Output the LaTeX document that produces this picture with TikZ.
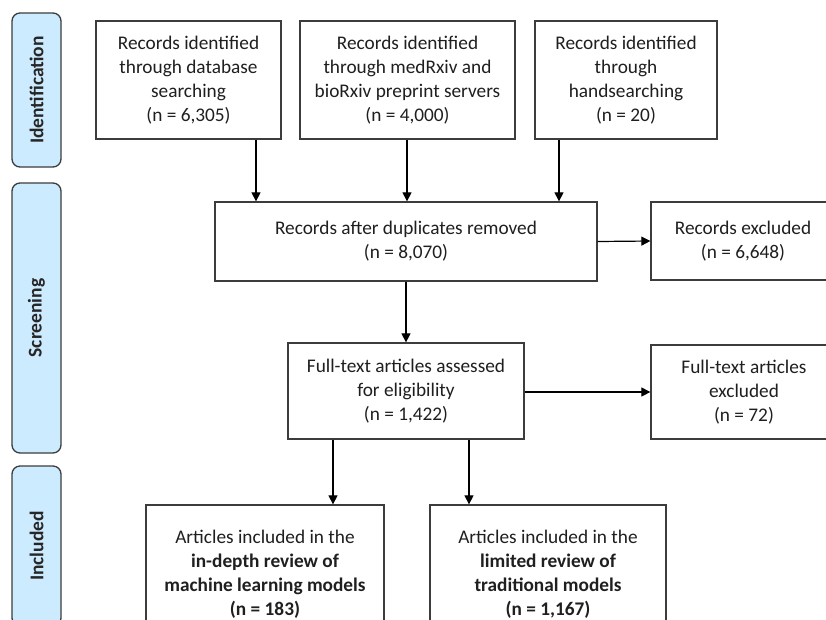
\documentclass[tikz,border=0pt]{standalone}
\usepackage{fontspec}
\setmainfont{Carlito}
\usetikzlibrary{arrows.meta}
\definecolor{barfill}{RGB}{205,235,255}
\definecolor{edgecol}{RGB}{60,60,60}
\begin{document}
\begin{tikzpicture}[x=1pt,y=-1pt,
  box/.style={draw=edgecol,line width=1.3pt,fill=white,inner sep=0pt,align=center,
    font=\fontsize{19.3}{24}\selectfont,text=black!88,
    execute at begin node={\rule{0pt}{20pt}}},
  bar/.style={draw=edgecol,line width=1.3pt,fill=barfill,rounded corners=8pt,rotate=90,
    minimum height=49pt,inner sep=0pt,font=\fontsize{19.5}{24}\selectfont\bfseries,text=black!85},
  arr/.style={draw=black,line width=1.2pt,-{Triangle[length=9pt,width=9pt]}}]
\useasboundingbox (0,0) rectangle (826,619);
\clip (0,0) rectangle (826,619);
\fill[white] (0,0) rectangle (826,619);
% side bars
\node[bar,minimum width=154pt] (idb) at (36.5,90) {Identification};
\node[bar,minimum width=270pt] (scb) at (36.5,318) {Screening};
\node[bar,minimum width=160pt] (inb) at (36.5,546) {Included};
% top boxes
\node[box,minimum width=185pt,minimum height=118pt] (b1) at (188.5,80)
  {Records identified\\through database\\searching\\(n = 6,305)};
\node[box,minimum width=215pt,minimum height=118pt] (b2) at (407.5,80)
  {Records identified\\through medRxiv and\\bioRxiv preprint servers\\(n = 4,000)};
\node[box,minimum width=182pt,minimum height=118pt] (b3) at (626,80)
  {Records identified\\through\\handsearching\\(n = 20)};
% duplicates
\node[box,minimum width=382pt,minimum height=79pt] (dup) at (406,241.5)
  {Records after duplicates removed\\(n = 8,070)};
\node[box,minimum width=184pt,minimum height=78pt] (ex1) at (743,241)
  {Records excluded\\(n = 6,648)};
% full text
\node[box,minimum width=236pt,minimum height=96pt] (ft) at (406,391)
  {Full-text articles assessed\\for eligibility\\(n = 1,422)};
\node[box,minimum width=186pt,minimum height=94pt] (ex2) at (744,392)
  {Full-text articles\\excluded\\(n = 72)};
% included
\node[box,minimum width=238pt,minimum height=138pt] (in1) at (265,574)
  {Articles included in the\\\textbf{in-depth review of}\\\textbf{machine learning models}\\\textbf{(n = 183)}};
\node[box,minimum width=236pt,minimum height=138pt] (in2) at (548,574)
  {Articles included in the\\\textbf{limited review of}\\\textbf{traditional models}\\\textbf{(n = 1,167)}};
% connector x positions
\coordinate (c1) at (256,0);
\coordinate (c2) at (407,0);
\coordinate (c3) at (559,0);
\coordinate (c4) at (333,0);
\coordinate (c5) at (469,0);
\draw[arr] (b1.south -| c1) -- (dup.north -| c1);
\draw[arr] (b2.south -| c2) -- (dup.north -| c2);
\draw[arr] (b3.south -| c3) -- (dup.north -| c3);
\draw[arr] (dup.east) -- (ex1.west);
\draw[arr] (dup.south -| ft.north) -- (ft.north);
\draw[arr] (ft.east |- ex2.west) -- (ex2.west);
\draw[arr] (ft.south -| c4) -- (in1.north -| c4);
\draw[arr] (ft.south -| c5) -- (in2.north -| c5);
\end{tikzpicture}
\end{document}
